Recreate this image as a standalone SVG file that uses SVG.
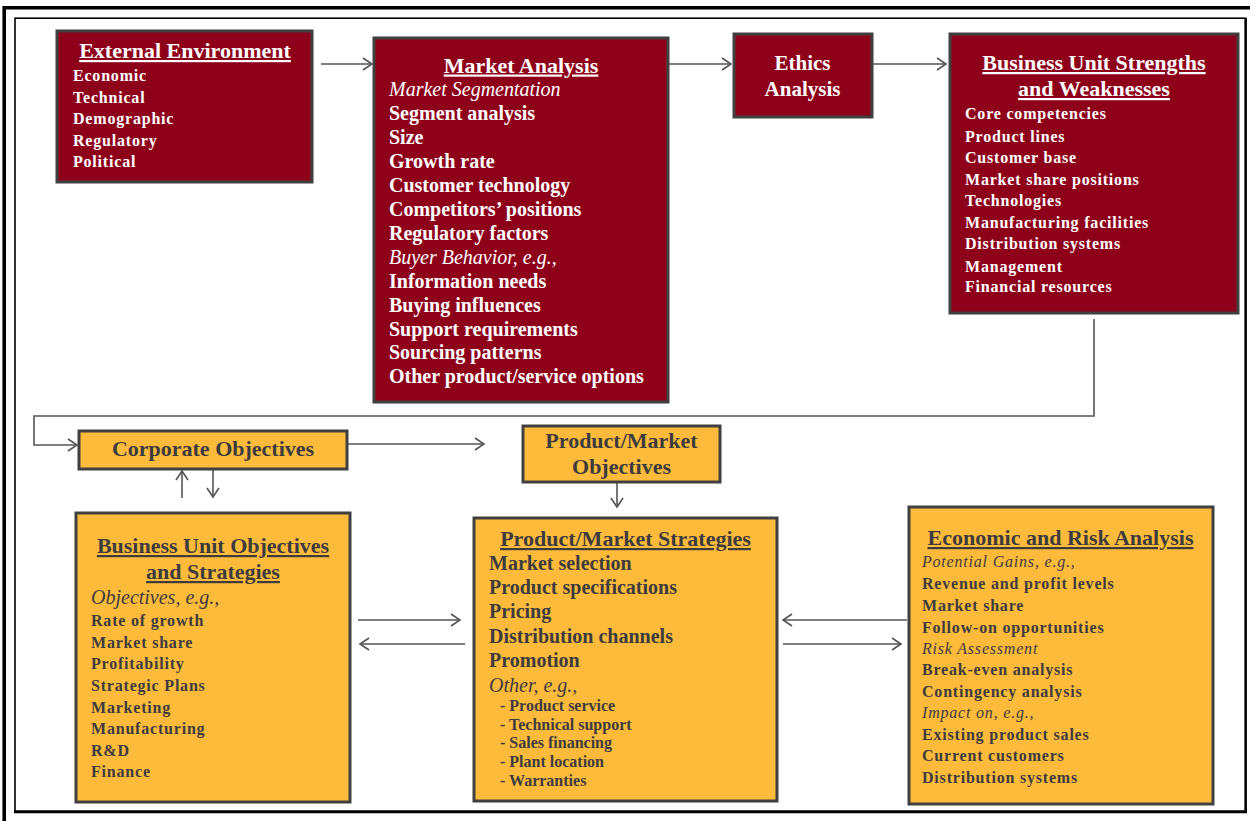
<svg xmlns="http://www.w3.org/2000/svg" width="1255" height="821" viewBox="0 0 1255 821">
<defs>
<style>
.red{fill:#8E0019;stroke:#404040;stroke-width:3}
.org{fill:#FDBA3B;stroke:#404040;stroke-width:3}
text{font-family:"Liberation Serif","Times New Roman",serif;font-weight:bold}
.w{fill:#fff}
.d{fill:#3c3c3c}
.ttl{font-size:22px;text-anchor:middle}
.u{text-decoration:underline}
.big{font-size:20px}
.sm{font-size:16px;letter-spacing:0.8px}
.sub{font-size:16px}
.it{font-style:italic;font-weight:normal}
.con{fill:none;stroke:#555;stroke-width:1.6}
</style>
<marker id="ah" markerWidth="12" markerHeight="14" refX="10" refY="7" orient="auto" markerUnits="userSpaceOnUse">
<path d="M1,1 L10,7 L1,13" fill="none" stroke="#555" stroke-width="1.6"/>
</marker>
</defs>
<rect width="1255" height="821" fill="#fff"/>
<g id="frame" fill="none" stroke="#000">
<path d="M4.2,6 V821" stroke-width="3.6"/>
<path d="M3,7.7 H1250" stroke-width="3.4"/>
<rect x="15" y="18.2" width="1230.5" height="793.5" stroke-width="1.6"/>
<path d="M14,811.7 H1247" stroke-width="3"/>
<path d="M1245.7,18 V813" stroke-width="2.4"/>
</g>
<g id="connectors" class="con" marker-end="url(#ah)">
<path d="M321,64 H372"/>
<path d="M668,64 H731"/>
<path d="M872,64 H946"/>
<path d="M1094,319 V416 H34 V445 H77"/>
<path d="M348,444 H484"/>
<path d="M182,498 V471"/>
<path d="M213,470 V497"/>
<path d="M617,483 V507"/>
<path d="M358,620 H460"/>
<path d="M465,644 H360"/>
<path d="M907,620 H783"/>
<path d="M783,644 H901"/>
</g>
<g id="external-environment">
<rect class="red" x="57" y="31" width="255" height="151"/>
<text class="w ttl u" x="185" y="58">External Environment</text>
<text class="w sm" x="73" y="81">Economic</text>
<text class="w sm" x="73" y="102.5">Technical</text>
<text class="w sm" x="73" y="124">Demographic</text>
<text class="w sm" x="73" y="145.5">Regulatory</text>
<text class="w sm" x="73" y="167">Political</text>
</g>
<g id="market-analysis">
<rect class="red" x="374" y="38" width="294" height="364"/>
<text class="w ttl u" x="521" y="72.5">Market Analysis</text>
<text class="w big it" x="389" y="95.7">Market Segmentation</text>
<text class="w big" x="389" y="119.7">Segment analysis</text>
<text class="w big" x="389" y="143.6">Size</text>
<text class="w big" x="389" y="167.6">Growth rate</text>
<text class="w big" x="389" y="191.6">Customer technology</text>
<text class="w big" x="389" y="215.6">Competitors’ positions</text>
<text class="w big" x="389" y="239.5">Regulatory factors</text>
<text class="w big it" x="389" y="263.5">Buyer Behavior, e.g.,</text>
<text class="w big" x="389" y="287.5">Information needs</text>
<text class="w big" x="389" y="311.5">Buying influences</text>
<text class="w big" x="389" y="335.5">Support requirements</text>
<text class="w big" x="389" y="359.4">Sourcing patterns</text>
<text class="w big" x="389" y="383.4">Other product/service options</text>
</g>
<g id="ethics-analysis">
<rect class="red" x="734" y="34" width="138" height="83"/>
<text class="w ttl" style="font-size:21px" x="802.5" y="70">Ethics</text>
<text class="w ttl" style="font-size:21px" x="802.5" y="95.7">Analysis</text>
</g>
<g id="business-unit-strengths">
<rect class="red" x="950" y="34" width="288" height="279"/>
<text class="w ttl u" x="1094" y="70">Business Unit Strengths</text>
<text class="w ttl u" x="1094" y="96">and Weaknesses</text>
<text class="w sm" x="965" y="119">Core competencies</text>
<text class="w sm" x="965" y="141.7">Product lines</text>
<text class="w sm" x="965" y="162.5">Customer base</text>
<text class="w sm" x="965" y="185">Market share positions</text>
<text class="w sm" x="965" y="205.5">Technologies</text>
<text class="w sm" x="965" y="228">Manufacturing facilities</text>
<text class="w sm" x="965" y="249">Distribution systems</text>
<text class="w sm" x="965" y="271.7">Management</text>
<text class="w sm" x="965" y="291.7">Financial resources</text>
</g>
<g id="corporate-objectives">
<rect class="org" x="79" y="431" width="268" height="38"/>
<text class="d ttl" x="213" y="456">Corporate Objectives</text>
</g>
<g id="product-market-objectives">
<rect class="org" x="523" y="426" width="197" height="56"/>
<text class="d ttl" x="621.5" y="448">Product/Market</text>
<text class="d ttl" x="621.5" y="474">Objectives</text>
</g>
<g id="business-unit-objectives">
<rect class="org" x="76" y="513" width="274" height="289"/>
<text class="d ttl u" x="213" y="553">Business Unit Objectives</text>
<text class="d ttl u" x="213" y="579">and Strategies</text>
<text class="d big it" x="91" y="604">Objectives, e.g.,</text>
<text class="d sm" x="91" y="625.7">Rate of growth</text>
<text class="d sm" x="91" y="647.7">Market share</text>
<text class="d sm" x="91" y="669">Profitability</text>
<text class="d sm" x="91" y="690.7">Strategic Plans</text>
<text class="d sm" x="91" y="712.7">Marketing</text>
<text class="d sm" x="91" y="734">Manufacturing</text>
<text class="d sm" x="91" y="755.7">R&amp;D</text>
<text class="d sm" x="91" y="776.7">Finance</text>
</g>
<g id="product-market-strategies">
<rect class="org" x="474" y="518" width="303" height="283"/>
<text class="d ttl u" x="625.5" y="546">Product/Market Strategies</text>
<text class="d big" x="489" y="570">Market selection</text>
<text class="d big" x="489" y="594">Product specifications</text>
<text class="d big" x="489" y="618">Pricing</text>
<text class="d big" x="489" y="642.7">Distribution channels</text>
<text class="d big" x="489" y="666.7">Promotion</text>
<text class="d big it" x="489" y="691.7">Other, e.g.,</text>
<text class="d sub" x="500" y="710.7">- Product service</text>
<text class="d sub" x="500" y="729.5">- Technical support</text>
<text class="d sub" x="500" y="748.3">- Sales financing</text>
<text class="d sub" x="500" y="767.3">- Plant location</text>
<text class="d sub" x="500" y="786">- Warranties</text>
</g>
<g id="economic-risk-analysis">
<rect class="org" x="909" y="507" width="304" height="297"/>
<text class="d ttl u" x="1060.5" y="545">Economic and Risk Analysis</text>
<text class="d sm it" x="922" y="567">Potential Gains, e.g.,</text>
<text class="d sm" x="922" y="589">Revenue and profit levels</text>
<text class="d sm" x="922" y="610.5">Market share</text>
<text class="d sm" x="922" y="632.5">Follow-on opportunities</text>
<text class="d sm it" x="922" y="653.5">Risk Assessment</text>
<text class="d sm" x="922" y="674.5">Break-even analysis</text>
<text class="d sm" x="922" y="696.5">Contingency analysis</text>
<text class="d sm it" x="922" y="718">Impact on, e.g.,</text>
<text class="d sm" x="922" y="740">Existing product sales</text>
<text class="d sm" x="922" y="761">Current customers</text>
<text class="d sm" x="922" y="782.7">Distribution systems</text>
</g>
</svg>
